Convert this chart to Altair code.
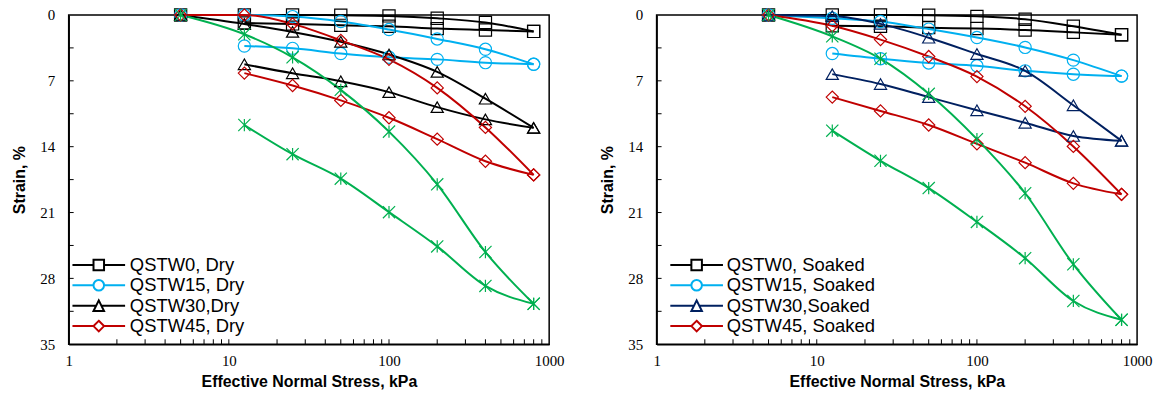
import altair as alt
import pandas as pd

# ---------------- data ----------------
stress_load = [5, 12.5, 25, 50, 100, 200, 400, 800]
stress_unload = [800, 400, 200, 100, 50, 25, 12.5]

dry_names = ["QSTW0, Dry", "QSTW15, Dry", "QSTW30,Dry", "QSTW45, Dry"]
soaked_names = ["QSTW0, Soaked", "QSTW15, Soaked", "QSTW30,Soaked", "QSTW45, Soaked"]
green_name = "QSTW (unlabelled)"

dry_colors = ["#000000", "#00B0F0", "#000000", "#C00000"]
soaked_colors = ["#000000", "#00B0F0", "#002060", "#C00000"]
green_color = "#00B050"

# Dry panel (strain, %)
dry_qstw0_load = [0, 0, 0, 0.02, 0.1, 0.35, 0.8, 1.75]
dry_qstw0_unload = [1.75, 1.6, 1.45, 1.2, 1.1, 0.95, 0.85]
dry_qstw15_load = [0, 0, 0.17, 0.7, 1.55, 2.55, 3.65, 5.24]
dry_qstw15_unload = [5.24, 5.07, 4.72, 4.5, 4.1, 3.55, 3.3]
dry_qstw30_load = [0, 0.95, 1.8, 2.85, 4.2, 6.05, 8.9, 12.0]
dry_qstw30_unload = [12.0, 11.1, 9.8, 8.2, 7.05, 6.2, 5.24]
dry_qstw45_load = [0, 0, 0.95, 2.7, 4.72, 7.75, 11.95, 17.0]
dry_qstw45_unload = [17.0, 15.55, 13.2, 10.93, 9.08, 7.5, 6.18]
dry_green_load = [0, 2.05, 4.5, 7.96, 12.4, 18.0, 25.2, 30.7]
dry_green_unload = [30.7, 28.8, 24.6, 20.96, 17.4, 14.8, 11.7]

# Soaked panel (strain, %)
soaked_qstw0_load = [0, 0, 0, 0.03, 0.15, 0.45, 1.2, 2.1]
soaked_qstw0_unload = [2.1, 1.85, 1.6, 1.45, 1.35, 1.2, 1.15]
soaked_qstw15_load = [0, 0.35, 0.7, 1.5, 2.4, 3.45, 4.8, 6.5]
soaked_qstw15_unload = [6.5, 6.3, 5.94, 5.4, 5.1, 4.65, 4.1]
soaked_qstw30_load = [0, 0.12, 0.95, 2.42, 4.15, 5.94, 9.6, 13.38]
soaked_qstw30_unload = [13.38, 12.86, 11.46, 10.13, 8.73, 7.34, 6.29]
soaked_qstw45_load = [0, 1.15, 2.62, 4.42, 6.55, 9.71, 13.97, 19.07]
soaked_qstw45_unload = [19.07, 17.9, 15.7, 13.7, 11.7, 10.2, 8.73]
soaked_green_load = [0, 2.27, 4.65, 8.38, 13.2, 18.95, 26.5, 32.4]
soaked_green_unload = [32.4, 30.4, 25.85, 22.0, 18.4, 15.5, 12.3]

x_tick_values = [1, 10, 100, 1000]
x_minor_ticks = [2, 3, 4, 5, 6, 7, 8, 9, 10, 20, 30, 40, 50, 60, 70, 80, 90,
                 100, 200, 300, 400, 500, 600, 700, 800, 900]
y_tick_values = [0, 7, 14, 21, 28, 35]
y_minor_ticks = [3.5, 7, 10.5, 14, 17.5, 21, 24.5, 28, 31.5]

marker_shapes = ["square", "circle", "triangle-up", "diamond",
                 "M-1,-1L1,1M1,-1L-1,1M0,-1L0,1"]
legend_shapes = [
    "M-5,0H-1M1,0H5M-1,-1H1V1H-1Z",
    "M-5,0H-1M1,0H5M1,0A1,1,0,1,1,-1,0A1,1,0,1,1,1,0Z",
    "M-5,0H-0.5M0.5,0H5M0,-1L1,1H-1Z",
    "M-5,0H-1M1,0H5M0,-1L1,0L0,1L-1,0Z",
]


def build_df(names, series_lists):
    rows = []
    for name, (load, unload) in zip(names, series_lists):
        for s, v in zip(stress_load, load):
            rows.append({"series": name, "branch": "load", "stress": s, "strain": v})
        for s, v in zip(stress_unload, unload):
            rows.append({"series": name, "branch": "unload", "stress": s, "strain": v})
    return pd.DataFrame(rows)


dry_df = build_df(
    dry_names + [green_name],
    [(dry_qstw0_load, dry_qstw0_unload), (dry_qstw15_load, dry_qstw15_unload),
     (dry_qstw30_load, dry_qstw30_unload), (dry_qstw45_load, dry_qstw45_unload),
     (dry_green_load, dry_green_unload)],
)
soaked_df = build_df(
    soaked_names + [green_name],
    [(soaked_qstw0_load, soaked_qstw0_unload), (soaked_qstw15_load, soaked_qstw15_unload),
     (soaked_qstw30_load, soaked_qstw30_unload), (soaked_qstw45_load, soaked_qstw45_unload),
     (soaked_green_load, soaked_green_unload)],
)

W, H = 483, 331


def panel(df, names, colors, sym_off, lab_off):
    all_names = names + [green_name]
    all_colors = colors + [green_color]
    xs = alt.Scale(type="log", domain=[1, 1000], nice=False)
    ys = alt.Scale(domain=[0, 35], reverse=True, nice=False, zero=False)
    x = alt.X("stress:Q", scale=xs,
              axis=alt.Axis(values=x_tick_values, format="d", ticks=False,
                            grid=False, labelPadding=9, labelFlush=False,
                            title="Effective Normal Stress, kPa", titlePadding=5))
    y = alt.Y("strain:Q", scale=ys,
              axis=alt.Axis(values=y_tick_values, ticks=False, grid=False,
                            labelPadding=14, labelFlush=False,
                            title="Strain, %", titlePadding=12))
    color = alt.Color("series:N", scale=alt.Scale(domain=all_names, range=all_colors),
                      legend=None)

    lines = alt.Chart(df).mark_line(interpolate="monotone", strokeWidth=2).encode(
        x=x, y=y, color=color, detail="branch:N")
    points = alt.Chart(df).mark_point(filled=False, size=150, strokeWidth=1.2,
                                      opacity=1).encode(
        x=x, y=y, color=color,
        shape=alt.Shape("series:N",
                        scale=alt.Scale(domain=all_names, range=marker_shapes),
                        legend=None))
    leg = alt.Legend(title=None, orient="bottom-left", offset=8, padding=0,
                     symbolSize=112, symbolStrokeWidth=2, symbolOffset=sym_off,
                     labelOffset=lab_off, rowPadding=0.5, labelFont="Liberation Sans",
                     labelFontSize=18.5, labelColor="black", labelLimit=300)
    legend_layer = alt.Chart(df).transform_filter("datum.strain < 0").mark_point(
        filled=False, strokeWidth=2, opacity=1).encode(
        x=x, y=y,
        stroke=alt.Stroke("series:N", scale=alt.Scale(domain=names, range=colors),
                          legend=leg),
        shape=alt.Shape("series:N", scale=alt.Scale(domain=names, range=legend_shapes),
                        legend=leg))

    xt = pd.DataFrame({"stress": x_minor_ticks})
    yt = pd.DataFrame({"strain": y_minor_ticks})
    xticks = alt.Chart(xt).mark_rule(color="black", strokeWidth=1).encode(
        x=x, y=alt.value(H), y2=alt.value(H - 5))
    yticks = alt.Chart(yt).mark_rule(color="black", strokeWidth=1).encode(
        y=y, x=alt.value(0), x2=alt.value(5))

    return alt.layer(lines, points, xticks, yticks, legend_layer).resolve_scale(
        shape="independent", stroke="independent").properties(width=W, height=H)


chart = alt.hconcat(panel(dry_df, dry_names, dry_colors, 13, 22),
                    panel(soaked_df, soaked_names, soaked_colors, 23, 21),
                    spacing=34).resolve_scale(
    color="independent", stroke="independent", shape="independent"
).resolve_legend(
    stroke="independent", shape="independent"
).properties(
    padding={"left": 3, "top": -4, "right": 0, "bottom": 0}
).configure_view(stroke="black", strokeWidth=1.5).configure_axis(
    domainColor="black", domainWidth=1.5,
    labelFont="Liberation Serif", labelFontSize=15, labelColor="black",
    titleFont="Liberation Sans", titleFontSize=16, titleFontWeight="bold",
    titleColor="black",
)

chart.save("out.html", embed_options={"renderer": "svg", "actions": False})
